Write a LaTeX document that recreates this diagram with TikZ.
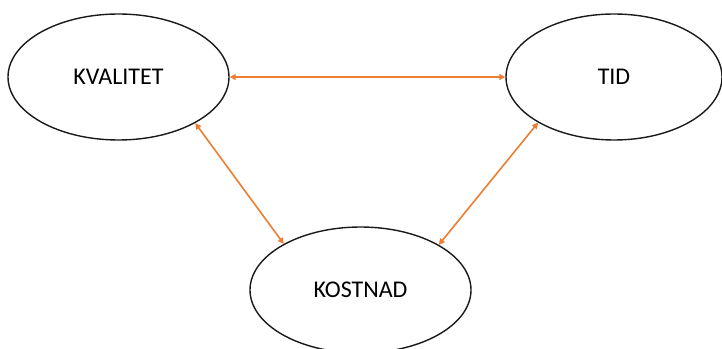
\documentclass[tikz,border=0pt]{standalone}
\usepackage{fontspec}
\setmainfont{Carlito}
\usetikzlibrary{shapes.geometric,arrows.meta}
\definecolor{arroworange}{HTML}{ED7D31}
\definecolor{ringgray}{HTML}{1A1A1A}
\begin{document}
\begin{tikzpicture}[x=1pt,y=1pt,
  goal/.style={ellipse, draw=ringgray, line width=1.4pt, minimum width=221pt, minimum height=126pt, inner sep=0pt, font=\fontsize{24}{28}\selectfont},
  link/.style={draw=arroworange, line width=1.6pt, {Triangle[length=6pt,width=6pt]}-{Triangle[length=6pt,width=6pt]}}]
\useasboundingbox (0,0) rectangle (722,348);
\node[goal] (kv) at (118.5,271) {KVALITET};
\node[goal, minimum width=216pt] (tid) at (614,271) {TID};
\node[goal] (ko) at (360.5,58) {KOSTNAD};
\draw[link] (kv) -- (tid);
\draw[link] (kv.-31) -- (ko.149);
\draw[link] (tid.211) -- (ko.30);
\end{tikzpicture}
\end{document}
